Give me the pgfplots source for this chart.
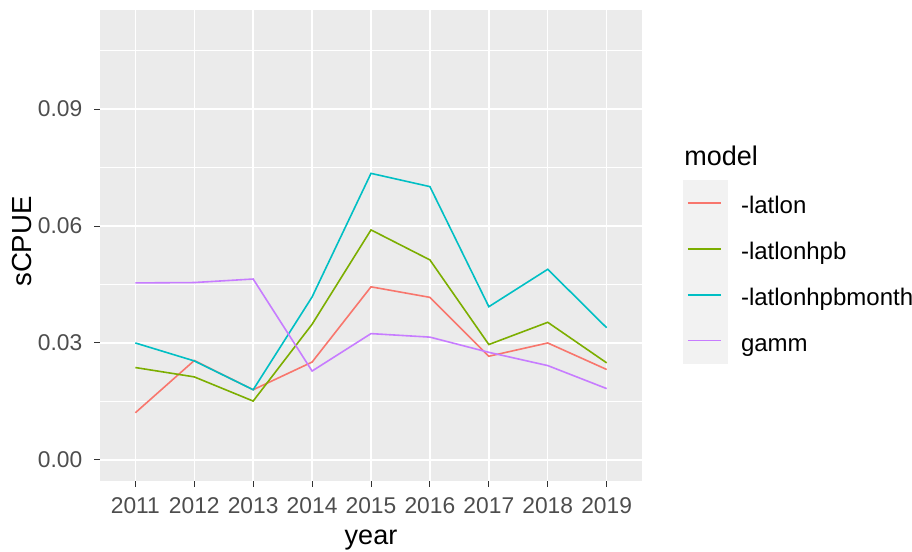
\documentclass[border=0pt]{standalone}
\usepackage{pgfplots}
\pgfplotsset{compat=1.18}
\usepackage{graphicx}
\usepackage{fontspec}
\setmainfont{Liberation Sans}
\definecolor{panelbg}{HTML}{EBEBEB}
\definecolor{keybg}{HTML}{F2F2F2}
\definecolor{ticktxt}{HTML}{4D4D4D}
\definecolor{tickcol}{HTML}{333333}
\definecolor{cA}{HTML}{F8766D}
\definecolor{cB}{HTML}{7CAE00}
\definecolor{cC}{HTML}{00BFC4}
\definecolor{cD}{HTML}{C77CFF}
\begin{document}
\begin{tikzpicture}
\useasboundingbox (0,0) rectangle (456pt,276pt);
\begin{axis}[
  at={(50pt,35.5pt)}, anchor=south west,
  scale only axis, width=271pt, height=235.5pt,
  xmin=2010.4, xmax=2019.6, ymin=-0.0054, ymax=0.1154,
  axis x line*=bottom, axis y line*=left,
  axis line style={draw=none},
  axis background/.style={fill=panelbg},
  tick align=outside,
  major tick length=3pt,
  major tick style={tickcol, line width=0.5pt},
  minor tick length=0pt,
  xtick={2011,2012,2013,2014,2015,2016,2017,2018,2019},
  xticklabels={2011,2012,2013,2014,2015,2016,2017,2018,2019},
  ytick={0,0.03,0.06,0.09},
  yticklabels={0.00,0.03,0.06,0.09},
  minor ytick={0.015,0.045,0.075,0.105},
  grid=both,
  major grid style={white, line width=0.7pt},
  minor grid style={white, line width=0.35pt},
  ticklabel style={font=\fontsize{11.4}{13}\selectfont, text=ticktxt, inner sep=0pt},
  xticklabel style={anchor=base, yshift=-13.5pt},
  yticklabel style={anchor=east, xshift=-5.7pt},
  xlabel={year}, ylabel={\rotatebox{90}{sCPUE}},
  every axis x label/.style={at={(axis description cs:0.5,0)}, anchor=base, yshift=-32pt,
    font=\fontsize{13.5}{16}\selectfont, inner sep=0pt},
  every axis y label/.style={at={(axis description cs:0,0.5)}, anchor=east, xshift=-33.75pt, yshift=2pt,
    font=\fontsize{13.8}{16}\selectfont, inner sep=0pt},
  legend style={at={(axis description cs:1.0757,0.6384)}, anchor=north west,
    draw=none, fill=none, inner sep=0pt, outer sep=0pt, row sep=0pt, column sep=6.5pt,
    font=\fontsize{12}{14}\selectfont,
    nodes={inner sep=0pt, outer sep=0pt, text height=0pt, text depth=0pt, yshift=-5.2pt}},
  legend cell align=left,
  legend image code/.code={
    \fill[keybg] (0pt,-11.05pt) rectangle (21.7pt,11.05pt);
    \draw[#1, line width=0.8pt] (2pt,0pt) -- (18.7pt,0pt);
  },
  every axis plot/.append style={line width=0.8pt},
]
\addplot[cA] coordinates {(2011,0.0121) (2012,0.0255) (2013,0.0180) (2014,0.0251) (2015,0.0444) (2016,0.0417) (2017,0.0266) (2018,0.0300) (2019,0.0232)};
\addlegendentry{-latlon}
\addplot[cB] coordinates {(2011,0.0237) (2012,0.0213) (2013,0.0151) (2014,0.0348) (2015,0.0590) (2016,0.0513) (2017,0.0296) (2018,0.0353) (2019,0.0249)};
\addlegendentry{-latlonhpb}
\addplot[cC] coordinates {(2011,0.0300) (2012,0.0254) (2013,0.0180) (2014,0.0418) (2015,0.0735) (2016,0.0701) (2017,0.0393) (2018,0.0489) (2019,0.0339)};
\addlegendentry{-latlonhpbmonth}
\addplot[cD] coordinates {(2011,0.0454) (2012,0.0455) (2013,0.0464) (2014,0.0228) (2015,0.0324) (2016,0.0315) (2017,0.0276) (2018,0.0242) (2019,0.0183)};
\addlegendentry{gamm}
\end{axis}
\node[anchor=base west, inner sep=0pt, font=\fontsize{13.5}{16}\selectfont] at (342pt,193.15pt) {model};
\end{tikzpicture}
\end{document}
